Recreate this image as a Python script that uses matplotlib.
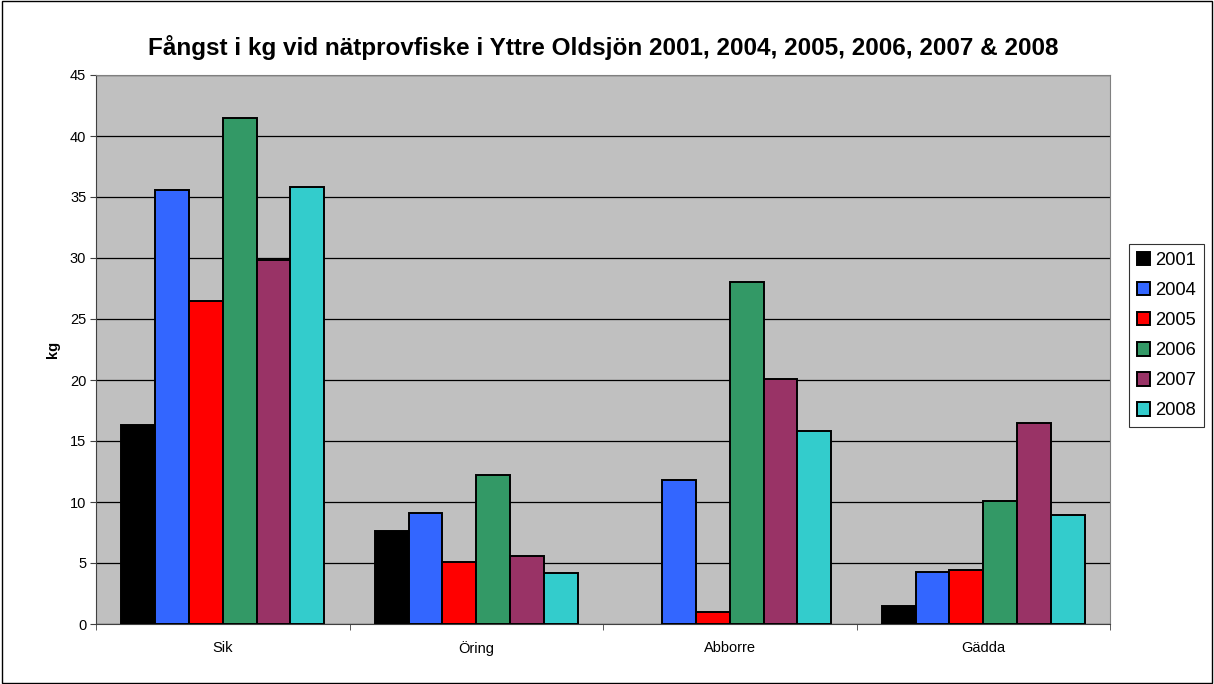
import matplotlib
matplotlib.use("Agg")
import matplotlib.pyplot as plt
import numpy as np
from matplotlib.patches import Rectangle

plt.rcParams['font.family'] = ['Liberation Sans', 'DejaVu Sans']

categories = ["Sik", "Öring", "Abborre", "Gädda"]
years = ["2001", "2004", "2005", "2006", "2007", "2008"]
v2001 = [16.3, 7.6, 0.0, 1.5]
v2004 = [35.6, 9.1, 11.8, 4.3]
v2005 = [26.5, 5.1, 1.0, 4.4]
v2006 = [41.5, 12.2, 28.0, 10.1]
v2007 = [29.8, 5.6, 20.1, 16.5]
v2008 = [35.8, 4.2, 15.8, 8.9]
series = [v2001, v2004, v2005, v2006, v2007, v2008]
colors = ["#000000", "#3366FF", "#FF0000", "#339966", "#993366", "#33CCCC"]

fig = plt.figure(figsize=(12.14, 6.84), dpi=100)
fig.patches.append(Rectangle((0.0015, 0.002), 0.997, 0.996, transform=fig.transFigure,
                             fill=False, edgecolor='black', linewidth=1.0))
ax = fig.add_axes([96/1214, 60/684, (1110-96)/1214, (624-75)/684])
ax.set_facecolor("#C0C0C0")

x = np.arange(len(categories))
n = len(series)
w = 0.8 / n
for i, (vals, c, yr) in enumerate(zip(series, colors, years)):
    pos = x - 0.4 + w * (i + 0.5)
    bars = ax.bar(pos, vals, width=w, color=c, edgecolor='black', linewidth=1.4, label=yr, zorder=3)
    for b, v in zip(bars, vals):
        if v == 0:
            b.set_linewidth(0)

ax.set_xlim(-0.5, len(categories) - 0.5)
ax.set_ylim(0, 45)
ax.set_yticks(np.arange(0, 46, 5))
ax.yaxis.grid(True, color='black', linewidth=0.9)
ax.set_axisbelow(True)
ax.set_xticks(x)
ax.set_xticklabels(categories, fontsize=10.5)
ax.set_xticks(np.arange(-0.5, len(categories), 1), minor=True)
ax.tick_params(axis='x', which='major', length=0, pad=12.5)
ax.tick_params(axis='x', which='minor', length=4, direction='out', color='#404040')
ax.tick_params(axis='y', labelsize=10.5, length=4, pad=3, direction='out', color='#404040')
for s in ['top', 'right']:
    ax.spines[s].set_color('#808080')
for s in ['left', 'bottom']:
    ax.spines[s].set_color('#404040')

ax.set_ylabel("kg", fontsize=10.5, fontweight='bold', labelpad=7)
fig.text(603/1214, 1 - 47/684, "Fångst i kg vid nätprovfiske i Yttre Oldsjön 2001, 2004, 2005, 2006, 2007 & 2008",
         ha='center', va='center', fontsize=17.5, fontweight='bold')

leg = fig.legend(loc='upper left', bbox_to_anchor=(1129/1214, 1 - 244/684), fontsize=13.2,
                 frameon=True, fancybox=False, edgecolor='black', handlelength=0.75, handleheight=0.75,
                 handletextpad=0.25, borderpad=0.42, labelspacing=0.71, borderaxespad=0)
leg.get_frame().set_linewidth(0.8)

fig.savefig("out.png", dpi=100)
